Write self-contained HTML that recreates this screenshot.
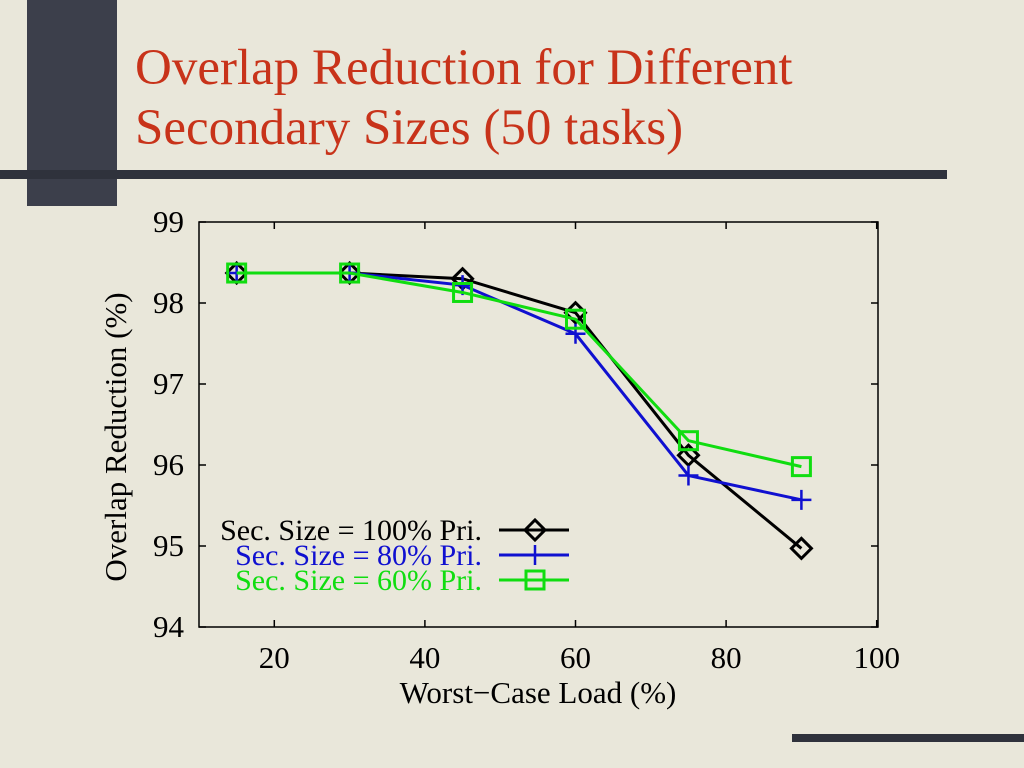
<!DOCTYPE html>
<html><head><meta charset="utf-8"><style>
body{margin:0;width:1024px;height:768px;background:#e9e7da;overflow:hidden;position:relative;font-family:"Liberation Serif",serif}
.abs{position:absolute}
</style></head><body>
<div class="abs" style="left:27px;top:0;width:90px;height:206px;background:#3c3f4b"></div>
<div class="abs" style="left:0;top:170px;width:947px;height:9px;background:#2f323c"></div>
<div class="abs" style="left:792px;top:734px;width:232px;height:8px;background:#2f323c"></div>
<div class="abs" style="left:135px;top:38px;color:#c8331a;font-size:51px;line-height:60px">Overlap Reduction for Different<br>Secondary Sizes (50 tasks)</div>
<svg class="abs" style="left:0;top:0" width="1024" height="768">
<g id="g"></g>
</svg>
<script>
const xValues=[15,30,45,60,75,90];
const s100=[98.37,98.37,98.3,97.88,96.12,94.97];
const s80=[98.37,98.37,98.22,97.62,95.87,95.57];
const s60=[98.37,98.37,98.13,97.8,96.3,95.98];
const xTicks=[20,40,60,80,100];
const yTicks=[94,95,96,97,98,99];
const X=v=>199+(v-10)*7.53, Y=v=>627-(v-94)*81;
const g=document.getElementById('g');const NS='http://www.w3.org/2000/svg';
function mk(t,a,txt){const e=document.createElementNS(NS,t);for(const k in a)e.setAttribute(k,a[k]);if(txt!==undefined)e.textContent=txt;g.appendChild(e);return e;}
let e=mk('rect',{x:199,y:222,width:679,height:405,fill:'none',stroke:'#000','stroke-width':1.5});

xTicks.forEach(t=>{
 let l=mk('path',{d:`M${X(t)},627v-7M${X(t)},222v7`,stroke:'#000','stroke-width':1.5});
 
 let tx=mk('text',{x:X(t),y:668,'text-anchor':'middle','font-size':31},t);
 
});
yTicks.forEach(t=>{
 let l=mk('path',{d:`M199,${Y(t)}h7M878,${Y(t)}h-7`,stroke:'#000','stroke-width':1.5});
 
 let tx=mk('text',{x:184,y:Y(t)+10,'text-anchor':'end','font-size':31},t);
 
});
e=mk('text',{x:538,y:703,'text-anchor':'middle','font-size':31},'Worst\u2212Case Load (%)');

e=mk('text',{x:0,y:0,'text-anchor':'middle','font-size':31,transform:'translate(126,437) rotate(-90)'},'Overlap Reduction (%)');

function marker(type,x,y,c){
 if(type==='d')return mk('path',{d:`M${x-10},${y}L${x},${y-10}L${x+10},${y}L${x},${y+10}Z`,fill:'none',stroke:c,'stroke-width':3});
 if(type==='p')return mk('path',{d:`M${x-10},${y}h20M${x},${y-10}v20`,fill:'none',stroke:c,'stroke-width':2.5});
 return mk('rect',{x:x-9,y:y-9,width:18,height:18,fill:'none',stroke:c,'stroke-width':3});
}
const series=[[s100,'#000','d','series-100'],[s80,'#1010d0','p','series-80'],[s60,'#10dd10','s','series-60']];
series.forEach(([d,c,m,n])=>{
 let p=mk('polyline',{points:xValues.map((x,i)=>X(x)+','+Y(d[i])).join(' '),fill:'none',stroke:c,'stroke-width':3});
 
 xValues.forEach((x,i)=>{let mm=marker(m,X(x),Y(d[i]),c);
  });
});
const labels=['Sec. Size = 100% Pri.','Sec. Size = 80% Pri.','Sec. Size = 60% Pri.'];
series.forEach(([d,c,m,n],i)=>{
 const y=530+i*25;
 let t=mk('text',{x:482,y:y+10,'text-anchor':'end','font-size':30,fill:c},labels[i]);
 
 let l=mk('path',{d:`M499,${y}h70`,stroke:c,'stroke-width':3});
 
 let mm=marker(m,535,y,c);
});
</script>
</body></html>
